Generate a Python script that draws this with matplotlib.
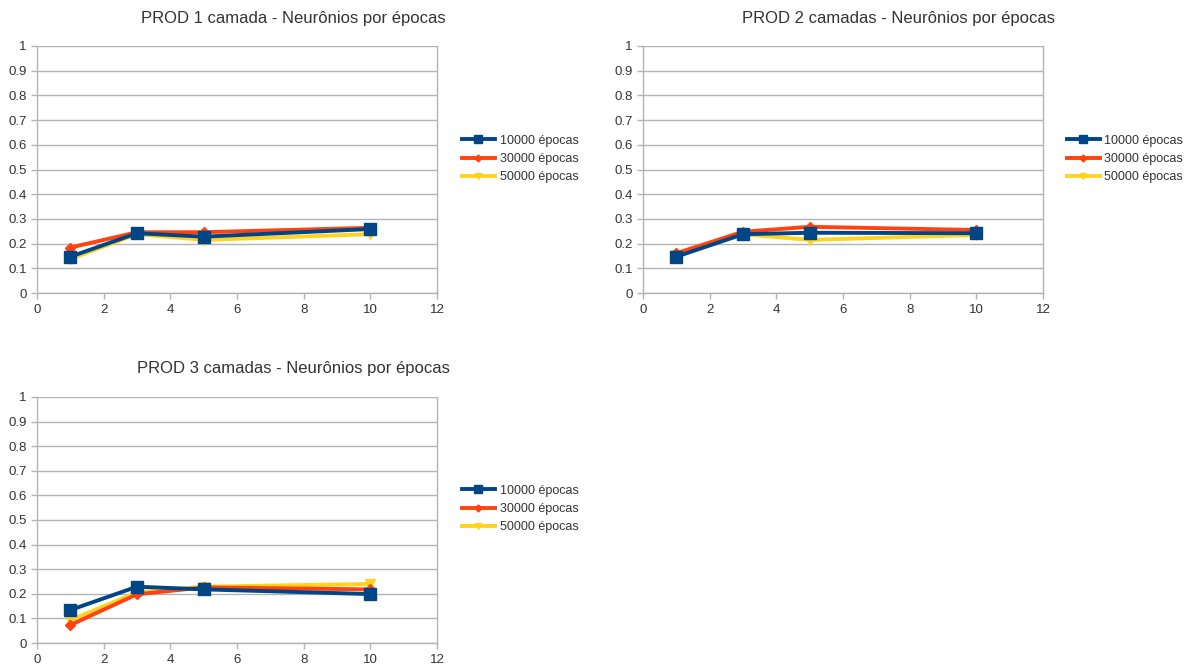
import matplotlib
matplotlib.use('Agg')
import matplotlib.pyplot as plt
import numpy as np

plt.rcParams['font.family'] = ['Liberation Sans', 'DejaVu Sans']

# dados
neuronios = [1, 3, 5, 10]
series_nomes = ['10000 épocas', '30000 épocas', '50000 épocas']

prod1_10000 = [0.147, 0.242, 0.228, 0.259]
prod1_30000 = [0.184, 0.246, 0.246, 0.264]
prod1_50000 = [0.138, 0.238, 0.215, 0.238]

prod2_10000 = [0.147, 0.238, 0.244, 0.242]
prod2_30000 = [0.161, 0.248, 0.268, 0.255]
prod2_50000 = [0.154, 0.238, 0.215, 0.235]

prod3_10000 = [0.134, 0.229, 0.218, 0.199]
prod3_30000 = [0.073, 0.198, 0.226, 0.218]
prod3_50000 = [0.093, 0.206, 0.229, 0.240]

titulos = ['PROD 1 camada - Neurônios por épocas',
           'PROD 2 camadas - Neurônios por épocas',
           'PROD 3 camadas - Neurônios por épocas']

cores = ['#004586', '#ff420e', '#ffd320']
marcadores = ['s', 'D', 'v']
tam_marc = [8, 5, 7]
zs = [5, 4, 3]
cinza = '#b3b3b3'

fig = plt.figure(figsize=(11.91, 6.68), dpi=100)

W, H = 1191.0, 668.0
# (esq px, dir px, topo px, base px, centro titulo px, y titulo px, legenda x px, legenda y px)
layout = [
    (37, 437, 46, 293, 293, 18, 462, 159),
    (643, 1043, 46, 293, 898, 18, 1067, 159),
    (37, 437, 397, 643, 293, 369, 462, 509),
]
dados = [
    (prod1_10000, prod1_30000, prod1_50000),
    (prod2_10000, prod2_30000, prod2_50000),
    (prod3_10000, prod3_30000, prod3_50000),
]

for k in range(3):
    l, r, t, b, tc, ty, lx, ly = layout[k]
    ax = fig.add_axes([l / W, 1 - b / H, (r - l) / W, (b - t) / H])
    for i in range(3):
        ax.plot(neuronios, dados[k][i], color=cores[i], lw=2.8,
                marker=marcadores[i], markersize=tam_marc[i],
                label=series_nomes[i], zorder=zs[i], solid_joinstyle='round')
    ax.set_xlim(0, 12)
    ax.set_ylim(0, 1)
    ax.set_xticks(range(0, 13, 2))
    ax.set_yticks(np.arange(0, 1.01, 0.1))
    ax.set_yticklabels(['0', '0.1', '0.2', '0.3', '0.4', '0.5', '0.6', '0.7', '0.8', '0.9', '1'])
    ax.grid(axis='y', color=cinza, lw=1)
    ax.set_axisbelow(True)
    for s in ax.spines.values():
        s.set_color(cinza)
        s.set_linewidth(1)
    ax.spines['top'].set_visible(False)
    ax.tick_params(colors=cinza, labelcolor='#333333', labelsize=9.5, length=4, width=1)
    ax.tick_params(axis='x', pad=4)
    fig.text(tc / W, 1 - ty / H, titulos[k], ha='center', va='center', fontsize=12, color='#333333')
    leg = ax.legend(loc='center left', bbox_to_anchor=(lx / W, 1 - ly / H),
                    bbox_transform=fig.transFigure, frameon=False, fontsize=9,
                    handlelength=2.6, handletextpad=0.4, labelspacing=0.5,
                    markerscale=0.7, borderpad=0, borderaxespad=0)
    for txt in leg.get_texts():
        txt.set_color('#333333')

fig.savefig('out.png', dpi=100)
